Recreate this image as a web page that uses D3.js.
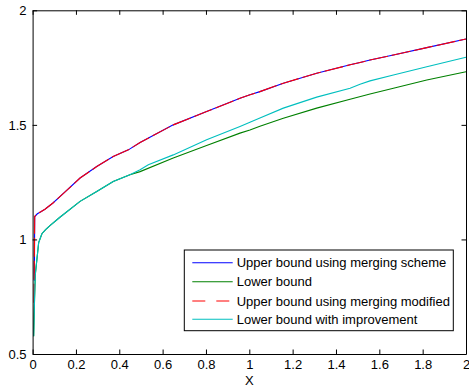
<!DOCTYPE html>
<html>
<head>
<meta charset="utf-8">
<script src="https://cdn.jsdelivr.net/npm/d3@7"></script>
<style>
  html, body { margin: 0; padding: 0; background: #fff; }
  svg { display: block; }
  text { font-family: "Liberation Sans", Arial, sans-serif; fill: #000; }
</style>
</head>
<body>
<svg id="chart" width="469" height="391"></svg>
<script>
// Upper bound using merging scheme (blue)
const upperMergeX = [0.008, 0.0097, 0.022, 0.040, 0.057, 0.094, 0.126, 0.219, 0.296, 0.372, 0.442, 0.496, 0.649, 0.803, 0.957, 1.003, 1.049, 1.157, 1.311, 1.465, 1.511, 1.557, 1.665, 1.819, 2.0];
const upperMergeY = [0.82, 1.100, 1.112, 1.122, 1.132, 1.159, 1.187, 1.268, 1.318, 1.362, 1.391, 1.423, 1.500, 1.558, 1.616, 1.631, 1.645, 1.682, 1.725, 1.762, 1.772, 1.783, 1.805, 1.837, 1.875];

// Upper bound using merging modified (red, dashed)
const upperModX = [0.0065, 0.0097, 0.022, 0.040, 0.057, 0.094, 0.126, 0.219, 0.296, 0.372, 0.442, 0.496, 0.649, 0.803, 0.957, 1.003, 1.049, 1.157, 1.311, 1.465, 1.511, 1.557, 1.665, 1.819, 2.0];
const upperModY = [0.724, 1.100, 1.112, 1.122, 1.132, 1.159, 1.187, 1.268, 1.318, 1.362, 1.391, 1.423, 1.500, 1.558, 1.616, 1.631, 1.645, 1.682, 1.725, 1.762, 1.772, 1.783, 1.805, 1.837, 1.875];

// Lower bound (green)
const lowerX = [0.005, 0.009, 0.0125, 0.028, 0.043, 0.060, 0.080, 0.126, 0.219, 0.296, 0.372, 0.449, 0.496, 0.649, 0.803, 0.957, 1.003, 1.049, 1.157, 1.311, 1.465, 1.557, 1.665, 1.819, 2.0];
const lowerY = [0.577, 0.74, 0.847, 0.986, 1.025, 1.043, 1.060, 1.097, 1.166, 1.209, 1.253, 1.282, 1.296, 1.355, 1.410, 1.464, 1.478, 1.494, 1.529, 1.573, 1.612, 1.635, 1.660, 1.696, 1.732];

// Lower bound with improvement (cyan)
const improvedX = [0.005, 0.009, 0.0125, 0.028, 0.043, 0.060, 0.080, 0.126, 0.219, 0.296, 0.372, 0.449, 0.496, 0.534, 0.649, 0.803, 0.957, 1.003, 1.049, 1.157, 1.311, 1.465, 1.511, 1.557, 1.665, 1.819, 2.0];
const improvedY = [0.577, 0.74, 0.847, 0.986, 1.025, 1.043, 1.060, 1.097, 1.166, 1.209, 1.253, 1.282, 1.304, 1.326, 1.369, 1.435, 1.493, 1.511, 1.530, 1.573, 1.621, 1.660, 1.677, 1.692, 1.718, 1.754, 1.795];

const xTicks = [0, 0.2, 0.4, 0.6, 0.8, 1, 1.2, 1.4, 1.6, 1.8, 2];
const yTicks = [0.5, 1, 1.5, 2];
const legendLabels = [
  "Upper bound using merging scheme",
  "Lower bound",
  "Upper bound using merging modified",
  "Lower bound with improvement"
];

const series = [
  { name: legendLabels[0], xs: upperMergeX, ys: upperMergeY, color: "#0000ff", dash: null, legendDash: null },
  { name: legendLabels[1], xs: lowerX, ys: lowerY, color: "#008000", dash: null, legendDash: null },
  { name: legendLabels[2], xs: upperModX, ys: upperModY, color: "#ff0000", dash: "19,4", legendDash: "13,11" },
  { name: legendLabels[3], xs: improvedX, ys: improvedY, color: "#00bfbf", dash: null, legendDash: null }
];

const svg = d3.select("#chart");
const plotLeft = 32.6, plotRight = 466, plotTop = 10.3, plotBottom = 354;

const x = d3.scaleLinear().domain([0, 2]).range([plotLeft, plotRight]);
const y = d3.scaleLinear().domain([0.5, 2]).range([plotBottom, plotTop]);

const line = d3.line().x(d => x(d[0])).y(d => y(d[1]));

const plot = svg.append("g");
series.forEach(s => {
  const pts = s.xs.map((v, i) => [v, s.ys[i]]);
  plot.append("path")
    .datum(pts)
    .attr("d", line)
    .attr("fill", "none")
    .attr("stroke", s.color)
    .attr("stroke-width", 1.1)
    .attr("stroke-dasharray", s.dash);
});

// Axes (ticks pointing inward, box on all sides)
const tickLen = 4.5;
const fmt = d3.format("");
const axisStyle = g => {
  g.selectAll("path.domain").attr("stroke", "#000").attr("stroke-width", 1);
  g.selectAll(".tick line").attr("stroke", "#000").attr("stroke-width", 1);
  g.selectAll("text").attr("font-size", 13).attr("font-family", "Liberation Sans, Arial, sans-serif").attr("fill", "#000");
};

svg.append("g").attr("transform", `translate(0,${plotBottom})`)
  .call(d3.axisBottom(x).tickValues(xTicks).tickSizeInner(-tickLen).tickSizeOuter(0).tickPadding(6).tickFormat(fmt))
  .call(axisStyle);
svg.append("g").attr("transform", `translate(0,${plotTop})`)
  .call(d3.axisTop(x).tickValues(xTicks).tickSizeInner(-tickLen).tickSizeOuter(0).tickFormat(""))
  .call(axisStyle);
svg.append("g").attr("transform", `translate(${plotLeft},0)`)
  .call(d3.axisLeft(y).tickValues(yTicks).tickSizeInner(-tickLen).tickSizeOuter(0).tickPadding(6).tickFormat(fmt))
  .call(axisStyle);
svg.append("g").attr("transform", `translate(${plotRight},0)`)
  .call(d3.axisRight(y).tickValues(yTicks).tickSizeInner(-tickLen).tickSizeOuter(0).tickFormat(""))
  .call(axisStyle);

// X axis title
svg.append("text")
  .attr("x", (plotLeft + plotRight) / 2).attr("y", 385)
  .attr("text-anchor", "middle")
  .attr("font-size", 13)
  .text("X");

// Legend
const lg = svg.append("g");
const lgX = 184.3, lgY = 250, lgW = 269, lgH = 80.7;
lg.append("rect").attr("x", lgX).attr("y", lgY).attr("width", lgW).attr("height", lgH)
  .attr("fill", "#fff").attr("stroke", "#000").attr("stroke-width", 1);
const rowY = [262.7, 281.7, 301, 319.3];
series.forEach((s, i) => {
  lg.append("line")
    .attr("x1", 192.3).attr("x2", 232.7)
    .attr("y1", rowY[i]).attr("y2", rowY[i])
    .attr("stroke", s.color).attr("stroke-width", 1.1)
    .attr("stroke-dasharray", s.legendDash);
  lg.append("text")
    .attr("x", 236.7).attr("y", rowY[i])
    .attr("dy", "0.35em")
    .attr("font-size", 13)
    .text(s.name);
});
</script>
</body>
</html>
